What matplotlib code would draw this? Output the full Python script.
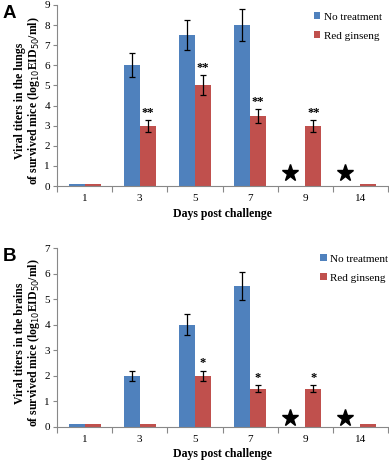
import matplotlib
matplotlib.use("Agg")
import matplotlib.pyplot as plt
import numpy as np

days = ["1", "3", "5", "7", "9", "14"]
lung_none = [0.1, 6.0, 7.5, 8.0, 0.0, 0.0]
lung_none_err = [0.0, 0.6, 0.75, 0.8, 0.0, 0.0]
lung_rg = [0.1, 3.0, 5.0, 3.5, 3.0, 0.1]
lung_rg_err = [0.0, 0.3, 0.5, 0.35, 0.3, 0.0]
lung_sig = ["", "**", "**", "**", "**", ""]
lung_dead = [False, False, False, False, True, True]

brain_none = [0.1, 2.0, 4.0, 5.5, 0.0, 0.0]
brain_none_err = [0.0, 0.2, 0.4, 0.55, 0.0, 0.0]
brain_rg = [0.1, 0.1, 2.0, 1.5, 1.5, 0.1]
brain_rg_err = [0.0, 0.0, 0.2, 0.15, 0.15, 0.0]
brain_sig = ["", "", "*", "*", "*", ""]
brain_dead = [False, False, False, False, True, True]

BLUE = "#4F81BD"
RED = "#C0504D"
SERIF = ["Liberation Serif", "DejaVu Serif"]

fig = plt.figure(figsize=(3.89, 4.62), dpi=100)


def panel(rect, none, none_err, rg, rg_err, sig, dead, ymax, organ, letter,
          star_y, sig_off, leg_anchor):
    ax = fig.add_axes(rect)
    x = np.arange(len(days))
    w = 0.29
    ax.bar(x - w / 2, none, w, color=BLUE, label="No treatment", zorder=2)
    ax.bar(x + w / 2, rg, w, color=RED, label="Red ginseng", zorder=2)
    for i in range(len(days)):
        if none_err[i] > 0:
            ax.errorbar(x[i] - w / 2, none[i], yerr=none_err[i], fmt="none",
                        ecolor="black", elinewidth=0.9, capsize=2.5, capthick=0.9, zorder=3)
        if rg_err[i] > 0:
            ax.errorbar(x[i] + w / 2, rg[i], yerr=rg_err[i], fmt="none",
                        ecolor="black", elinewidth=0.9, capsize=2.5, capthick=0.9, zorder=3)
        if sig[i]:
            ax.text(x[i] + w / 2, rg[i] + rg_err[i] + sig_off, sig[i],
                    ha="center", va="bottom", fontsize=9, fontweight="bold",
                    family=SERIF)
        if dead[i]:
            ax.plot(x[i] - 0.28, star_y, marker="*", color="black",
                    markersize=12.5, linestyle="none", zorder=4)
    ax.set_xlim(-0.5, len(days) - 0.5)
    ax.set_ylim(0, ymax)
    ax.set_yticks(range(0, ymax + 1))
    ax.set_xticks(x)
    ax.set_xticklabels(days, family=SERIF, fontsize=8)
    ax.set_xticks(np.arange(-0.5, len(days), 1.0), minor=True)
    ax.tick_params(axis="x", which="major", length=0, pad=6)
    ax.tick_params(axis="x", which="minor", length=4, color="#888888", width=0.8)
    ax.tick_params(axis="y", length=3, color="#888888", width=0.8, labelsize=8, pad=2)
    for lab in ax.get_yticklabels():
        lab.set_family(SERIF)
    for s in ["top", "right"]:
        ax.spines[s].set_visible(False)
    for s in ["left", "bottom"]:
        ax.spines[s].set_color("#888888")
        ax.spines[s].set_linewidth(0.8)
    ax.set_xlabel("Days post challenge", family=SERIF, fontsize=8.5,
                  fontweight="bold", labelpad=3)
    ax.set_ylabel("Viral titers in the %s\nof survived mice (log$_{10}$EID$_{50}$/ml)" % organ,
                  family=SERIF, fontsize=8.5, fontweight="bold", linespacing=1.0)
    ax.yaxis.set_label_coords(-0.045, 0.47)
    ax.legend(loc="upper left", bbox_to_anchor=leg_anchor, frameon=False,
              prop={"family": SERIF, "size": 8}, handlelength=0.6,
              handleheight=0.6, handletextpad=0.3, labelspacing=0.85,
              borderpad=0, borderaxespad=0)
    ax.text(-0.165, 1.0, letter, transform=ax.transAxes, fontsize=13.5,
            fontweight="bold", family=["Liberation Sans", "DejaVu Sans"],
            ha="left", va="top")
    return ax


panel([0.1465, 0.5974, 0.851, 0.3918], lung_none, lung_none_err, lung_rg,
      lung_rg_err, lung_sig, lung_dead, 9, "lungs", "A", 0.65, 0.05,
      (0.775, 0.96))
panel([0.1465, 0.0758, 0.851, 0.3874], brain_none, brain_none_err, brain_rg,
      brain_rg_err, brain_sig, brain_dead, 7, "brains", "B", 0.35, 0.05,
      (0.795, 0.965))

fig.savefig("out.png", dpi=100)
